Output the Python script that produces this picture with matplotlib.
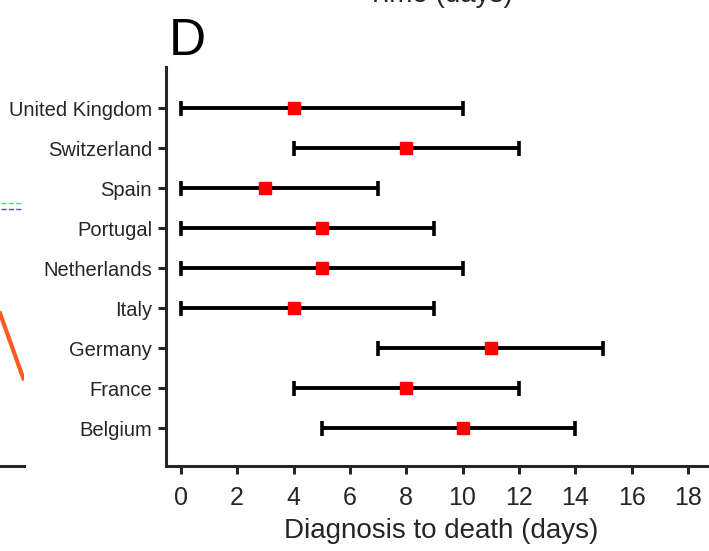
import matplotlib
matplotlib.use('Agg')
import matplotlib.pyplot as plt

plt.rcParams['font.family'] = ['Liberation Sans', 'DejaVu Sans']

# panel D data
countries = ['Belgium', 'France', 'Germany', 'Italy', 'Netherlands',
             'Portugal', 'Spain', 'Switzerland', 'United Kingdom']
median_days = [10, 8, 11, 4, 5, 5, 3, 8, 4]
low_days = [5, 4, 7, 0, 0, 0, 0, 4, 0]
high_days = [14, 12, 15, 9, 10, 9, 7, 12, 10]
xticks = list(range(0, 20, 2))

# cut-off piece of neighbouring panel on the left
prev_x = [8.55, 9.95]
prev_y = [0.383, 0.22]
dash_x = [8.6, 9.9]
dash_green = 0.659
dash_purple = 0.644

gray = '#262626'
fig = plt.figure(figsize=(7.09, 5.51), dpi=100)

# left neighbour panel (only its right edge is visible)
ax0 = fig.add_axes([-0.2, 0.154, 0.234, 0.724])
ax0.plot(prev_x, prev_y, color='#ff5a1f', lw=3)
ax0.plot(dash_x, [dash_green] * 2, color='#55dd77', lw=1, ls='--')
ax0.plot(dash_x, [dash_purple] * 2, color='#6a3df0', lw=1, ls='--')
ax0.set_xlim(0, 10)
ax0.set_ylim(0, 1)
for s in ['top', 'right', 'left']:
    ax0.spines[s].set_visible(False)
ax0.spines['bottom'].set_linewidth(2.2)
ax0.spines['bottom'].set_color(gray)
ax0.set_xticks([])
ax0.set_yticks([])
# x label of the panel above, mostly cut off by the crop
fig.text(440 / 709, 1 - 1.5 / 551, 'Time (days)', ha='center', va='baseline',
         fontsize=20, color=gray)

# panel D
ax = fig.add_axes([0.234, 0.154, 0.776, 0.724])
ypos = list(range(len(countries)))
err = [[m - l for m, l in zip(median_days, low_days)],
       [h - m for m, h in zip(median_days, high_days)]]
ax.errorbar(median_days, ypos, xerr=err, fmt='none', ecolor='black',
            elinewidth=2.8, capsize=5.4, capthick=2.6)
ax.plot(median_days, ypos, 's', color='red', markersize=8.8, zorder=3)

ax.set_xlim(-0.53, 19)
ax.set_ylim(-0.95, 9.03)
ax.set_xticks(xticks)
ax.set_yticks(ypos)
ax.set_yticklabels(countries, fontsize=14.5, color=gray)
ax.tick_params(axis='x', labelsize=18, labelcolor=gray, width=2.2,
               length=6, color=gray, pad=8)
ax.tick_params(axis='y', width=2.2, length=6, color=gray, pad=4)
for s in ['top', 'right']:
    ax.spines[s].set_visible(False)
for s in ['left', 'bottom']:
    ax.spines[s].set_linewidth(2.2)
    ax.spines[s].set_color(gray)
ax.set_xlabel('Diagnosis to death (days)', fontsize=20, color=gray, labelpad=6)

fig.text(169 / 709, 1 - 55 / 551, 'D', fontsize=37, color='black',
         ha='left', va='baseline')

fig.savefig('out.png', dpi=100)
